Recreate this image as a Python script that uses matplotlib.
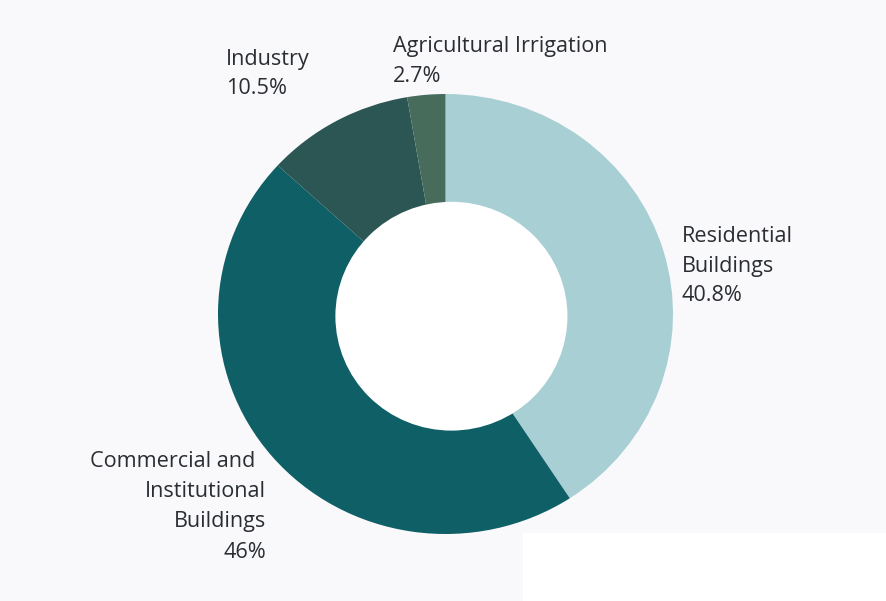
import matplotlib
matplotlib.use("Agg")
import matplotlib.pyplot as plt
from matplotlib.patches import Rectangle, Ellipse

categories = ["Residential\nBuildings", "Commercial and\nInstitutional\nBuildings", "Industry", "Agricultural Irrigation"]
values = [40.8, 46, 10.5, 2.7]
value_labels = ["40.8%", "46%", "10.5%", "2.7%"]
colors = ["#a8cfd4", "#0f5f66", "#2b5653", "#476c5b"]

bg = "#f9f9fb"
text_color = "#2a2e33"

W, H = 887, 601
fig = plt.figure(figsize=(W / 100, H / 100), dpi=100, facecolor=bg)
# white block in the lower right corner
fig.patches.append(Rectangle((523 / W, 0), 1, (H - 533) / H, transform=fig.transFigure,
                             facecolor="white", edgecolor="none", zorder=0))

# donut bounding box in pixels (left, top, right, bottom)
L, T, R, B = 218, 94, 673, 534
ax = fig.add_axes([L / W, (H - B) / H, (R - L) / W, (B - T) / H])
ax.set_facecolor("none")
ax.pie(values, colors=colors, startangle=90, counterclock=False,
       wedgeprops=dict(width=0.54, edgecolor="none"))
# hole
ax.add_patch(Ellipse((0.026, -0.01), 2 * 0.51, 2 * 0.52, facecolor="white", edgecolor="none", zorder=5))
ax.set_xlim(-1, 1)
ax.set_ylim(-1, 1)
ax.set_aspect("auto")
ax.axis("off")

font = dict(family=["Open Sans", "DejaVu Sans"], fontsize=15.6, color=text_color)


def put(lines, x, baselines, ha="left", xs=None):
    for i, (s, y) in enumerate(zip(lines, baselines)):
        xx = xs[i] if xs is not None else x
        fig.text(xx / W, 1 - y / H, s, ha=ha, va="baseline", **font)


put(categories[0].split("\n") + [value_labels[0]], 682, [242, 272, 301])
put(categories[1].split("\n") + [value_labels[1]], 266, [467, 497, 527, 558], ha="right",
    xs=[255, 266, 266, 266])
put(categories[2].split("\n") + [value_labels[2]], 226, [65, 94])
put(categories[3].split("\n") + [value_labels[3]], 393, [52, 82])

fig.savefig("out.png", dpi=100, facecolor=bg)
